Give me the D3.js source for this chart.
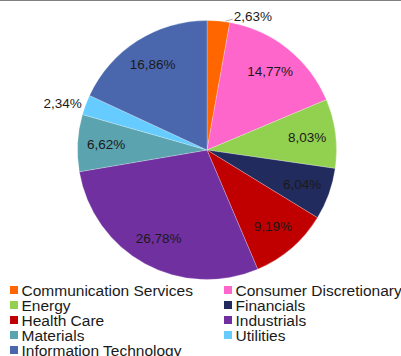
<!DOCTYPE html>
<html><head><meta charset="utf-8">
<script src="https://cdn.jsdelivr.net/npm/d3@7"></script>
<style>body{margin:0;background:#fff}svg{display:block;font-family:"Liberation Sans",Arial,sans-serif}</style>
</head><body><svg id="c" width="401" height="356"></svg>
<script>
const categories = ["Communication Services","Consumer Discretionary","Energy","Financials","Health Care","Industrials","Materials","Utilities","Information Technology"];
const values = [2.63,14.77,8.03,6.04,9.19,26.78,6.62,2.34,16.86];
const labels = ["2,63%","14,77%","8,03%","6,04%","9,19%","26,78%","6,62%","2,34%","16,86%"];
const colors = ["#FF6600","#FF66CC","#92D050","#222B5E","#C00000","#7030A0","#5BA3AE","#66CCFF","#4A67AE"];
const outside = [true,false,false,false,false,false,false,true,false];

const svg = d3.select("#c");
const W = 401, cx = 207, cy = 150, R = 129.5;
svg.append("line").attr("x1",0).attr("x2",W).attr("y1",0.5).attr("y2",0.5).attr("stroke","#7f7f7f").attr("stroke-width",1);

const pie = d3.pie().sort(null).value(d=>d);
const arcs = pie(values);
const arc = d3.arc().innerRadius(0).outerRadius(R);
const labelArc = d3.arc().innerRadius(101).outerRadius(101);
const g = svg.append("g").attr("transform",`translate(${cx},${cy})`);
g.selectAll("path").data(arcs).join("path")
  .attr("d",arc).attr("fill",(d,i)=>colors[i]).attr("stroke","#fff").attr("stroke-width",0.4).attr("stroke-opacity",0.6);

const pt = (r,a)=>[Math.sin(a)*r, -Math.cos(a)*r];
arcs.forEach((d,i)=>{
  const mid = (d.startAngle+d.endAngle)/2;
  if(!outside[i]){
    const c = labelArc.centroid(d);
    g.append("text").attr("x",c[0]).attr("y",c[1]).attr("text-anchor","middle").attr("dominant-baseline","central")
      .attr("font-size",13.5).attr("fill","#1a1a1a").text(labels[i]);
  } else {
    const p = pt(R+4, mid);
    if (p[0] > 0) {
      const e = pt(R+0.5, mid + 0.6*(d.endAngle-mid));
      g.append("line").attr("x1",e[0]).attr("y1",e[1]).attr("x2",p[0]+14).attr("y2",p[1]+2).attr("stroke","#999").attr("stroke-width",0.8);
      g.append("text").attr("x",p[0]+15).attr("y",p[1]-1).attr("text-anchor","start").attr("dominant-baseline","central")
        .attr("font-size",13.5).attr("fill","#1a1a1a").text(labels[i]);
    } else {
      g.append("text").attr("x",p[0]).attr("y",p[1]).attr("text-anchor","end").attr("dominant-baseline","central")
        .attr("font-size",13.5).attr("fill","#1a1a1a").text(labels[i]);
    }
  }
});

const lg = svg.append("g");
categories.forEach((c,i)=>{
  const col = i%2, row = Math.floor(i/2);
  const x = col ? 224 : 10, y = 290 + row*15;
  lg.append("rect").attr("x",x).attr("y",y-4).attr("width",8).attr("height",8).attr("fill",colors[i]);
  lg.append("text").attr("x",x+11.5).attr("y",y).attr("dominant-baseline","central").attr("font-size",15.5).attr("fill","#1a1a1a").text(c);
});
</script></body></html>
